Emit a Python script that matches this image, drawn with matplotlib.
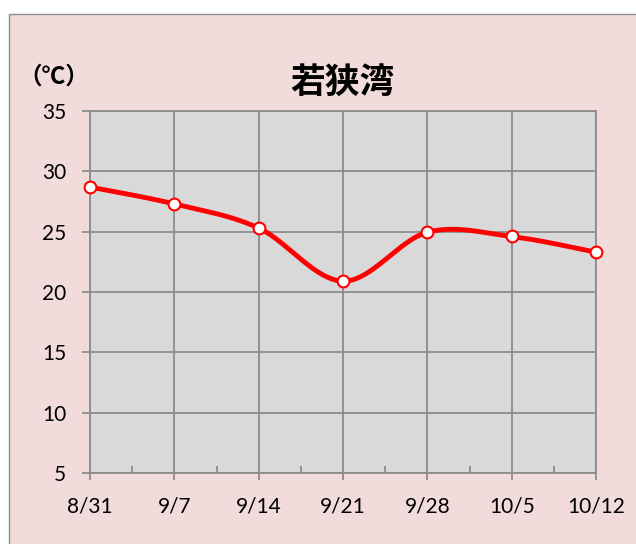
import numpy as np
import matplotlib
matplotlib.use("Agg")
import matplotlib.pyplot as plt
from matplotlib.patches import Rectangle

dates = ["8/31", "9/7", "9/14", "9/21", "9/28", "10/5", "10/12"]
temps = [28.7, 27.3, 25.3, 20.9, 24.95, 24.6, 23.3]
yticks = [5, 10, 15, 20, 25, 30, 35]
title = "若狭湾"
unit = "（℃）"

num_font = ["Lato", "DejaVu Sans"]
cjk_font = ["Noto Sans CJK JP", "DejaVu Sans"]

fig = plt.figure(figsize=(6.36, 5.44), dpi=100, facecolor="white")
bg = Rectangle((9/636, -0.05), 1.1, (544-14)/544 + 0.05,
               transform=fig.transFigure, facecolor="#f2dcdb",
               edgecolor="#8c8c8c", linewidth=1.0, zorder=-10)
fig.patches.append(bg)

ax = fig.add_axes([90/636, 1-473/544, (596-90)/636, (473-111)/544])
ax.set_zorder(5)
ax.set_facecolor("#d9d9d9")

x = np.arange(len(dates), dtype=float)
y = np.array(temps, dtype=float)

# Smoothed line (Catmull-Rom style cubic Bezier as in spreadsheet smoothing)
P = np.column_stack([x, y])
Pext = np.vstack([P[0], P, P[-1]])
curve = []
t = np.linspace(0, 1, 40)[:, None]
for i in range(len(P) - 1):
    p0, p1, p2, p3 = Pext[i], Pext[i+1], Pext[i+2], Pext[i+3]
    c1 = p1 + (p2 - p0) / 6
    c2 = p2 - (p3 - p1) / 6
    seg = ((1-t)**3)*p1 + 3*((1-t)**2)*t*c1 + 3*(1-t)*(t**2)*c2 + (t**3)*p2
    curve.append(seg)
curve = np.vstack(curve)

ax.plot(curve[:, 0], curve[:, 1], color="#ff0000", linewidth=3.5, zorder=3,
        solid_capstyle="round")
ax.plot(x, y, linestyle="none", marker="o", markersize=8.5,
        markerfacecolor="white", markeredgecolor="#ff0000",
        markeredgewidth=1.5, zorder=4, clip_on=False)

ax.set_xlim(0, len(dates) - 1)
ax.set_ylim(5, 35)
ax.set_xticks(x)
ax.set_xticklabels(dates)
ax.set_xticks(x[:-1] + 0.5, minor=True)
ax.set_yticks(yticks)
ax.set_yticklabels([str(v) for v in yticks])

ax.grid(True, which="major", color="#8c8c8c", linewidth=1.3)
ax.set_axisbelow(True)
for s in ax.spines.values():
    s.set_color("#8c8c8c")
    s.set_linewidth(1.3)

ax.tick_params(axis="x", which="major", direction="out", length=5, width=1.3,
               color="#8c8c8c", pad=12, labelsize=15)
ax.tick_params(axis="x", which="minor", direction="in", length=5, width=1.3,
               color="#8c8c8c")
ax.tick_params(axis="y", which="major", direction="out", length=6, width=1.3,
               color="#8c8c8c", pad=11, labelsize=15)
for lab in ax.get_xticklabels() + ax.get_yticklabels():
    lab.set_family(num_font)
    lab.set_color("black")

fig.text(342/636, 1-82/544, title, ha="center", va="center",
         fontsize=25, fontweight="bold", family=cjk_font)
fig.text(54/636, 1-77/544, unit, ha="center", va="center",
         fontsize=17, fontweight="bold", family=cjk_font)

fig.savefig("out.png", dpi=100, facecolor=fig.get_facecolor())
